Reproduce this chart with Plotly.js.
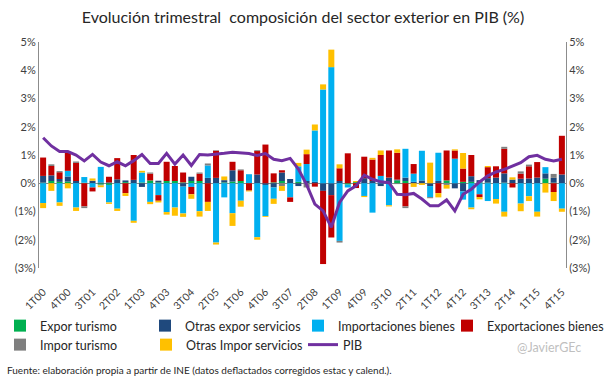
<!DOCTYPE html>
<html><head><meta charset="utf-8">
<script src="https://cdn.plot.ly/plotly-3.0.1.min.js"></script>
<style>html,body{margin:0;padding:0;background:#fff}#chart{width:606px;height:379px}</style>
</head><body><div id="chart"></div>
<script>
const quarters = ["1T00","2T00","3T00","4T00","1T01","2T01","3T01","4T01","1T02","2T02","3T02","4T02","1T03","2T03","3T03","4T03","1T04","2T04","3T04","4T04","1T05","2T05","3T05","4T05","1T06","2T06","3T06","4T06","1T07","2T07","3T07","4T07","1T08","2T08","3T08","4T08","1T09","2T09","3T09","4T09","1T10","2T10","3T10","4T10","1T11","2T11","3T11","4T11","1T12","2T12","3T12","4T12","1T13","2T13","3T13","4T13","1T14","2T14","3T14","4T14","1T15","2T15","3T15","4T15"];
const tickLabels = ["1T00","4T00","3T01","2T02","1T03","4T03","3T04","2T05","1T06","4T06","3T07","2T08","1T09","4T09","3T10","2T11","1T12","4T12","3T13","2T14","1T15","4T15"];
const yTickVals = [5,4,3,2,1,0,-1,-2,-3];
const yTickText = ["5%","4%","3%","2%","1%","0%","(1%)","(2%)","(3%)"];

const exporTurismo = [0.02,0.08,0.05,0.06,0,0.02,0,-0.05,-0.06,0, 0.04,0,0.03,0.10,0.03,0.08,0.08,0.03,0.08,0.08, 0,0,0.03,0.06,0.08,0,0,0,0.03,0.08, 0,0.05,0,0,0,0,0,-0.05,0.04,0, 0,0,0,0.10,0.08,0,0,0,0,0.10, 0,0.05,0.05,0.03,0.02,0,0.02,0,0,0, 0,0.16,0.02,0];
const otrasExpor = [0.24,0.20,0.10,0.18,0.08,0,0.09,0.03,0.03,0.14, 0.06,0.12,-0.13,0,0.06,0,0,-0.12,0.15,0, 0.19,0.19,0.08,0.40,0,0,0.31,-0.06,-0.15,0.30, 0.15,-0.10,0.08,0.05,-0.27,-0.42,0.08,0,0,0.18, 0.08,-0.10,0.20,0.03,0.12,0.05,0.10,-0.10,0.08,0, -0.18,-0.29,0.20,0.08,0.16,0.20,0.33,0.13,0.16,0.17, 0.20,0.19,0.17,0.31];
const importBienes = [-0.70,0,-0.68,0.20,-0.86,0.20,-0.15,0.55,-0.62,-0.90, 0,-1.33,0.35,-0.66,-0.42,-1.02,-0.86,-0.95,-0.13,-0.99, 0.44,-2.10,-0.50,-1.06,-0.62,0.32,-1.91,-1.10,-0.40,0, -0.50,0.55,0.60,1.82,3.32,4.11,-2.04,-0.10,0,-0.45, -1.04,0.26,-0.78,0,1.02,0.29,1.05,-0.39,1.00,0, 0.87,-0.29,-0.86,-0.39,-0.63,-0.56,-1.01,0,-0.72,-0.46, -1.01,0.22,0,-0.90];
const exportBienes = [0.65,0.33,0.24,0.65,0.64,-0.82,-0.14,0,0.20,0.75, -0.35,0.88,0,0.24,-0.20,0.68,0.53,0.35,-0.26,0.26, -0.66,0.96,0,0.30,0.38,-0.26,0.83,1.37,0.32,0.08, -0.16,0,0.35,-0.12,-2.59,-1.50,0.45,1.06,-0.17,0.76, 0.76,0.74,0.96,0.95,-0.82,0.34,0,0,-0.35,1.06, 0.29,0.47,0.75,-0.10,0.39,0.40,0.87,-0.15,0.18,0.43, 0.55,0,-0.31,1.37];
const imporTurismo = [0,0.06,0.04,0,0.05,-0.06,0,-0.03,0,0, 0,0,0,0.04,0,0,0,0,0,0.04, 0.07,0.02,0,0,0.03,0,0.03,0,0,-0.10, 0,0,-0.15,0,0,0,-0.06,0,0,0, 0,0,0,-0.03,-0.06,0,0,-0.04,0,-0.06, 0,0,0,0,0,0,0.07,0,0.08,0.06, 0,0,0.14,0];
const otrasImpor = [-0.18,-0.27,-0.12,-0.18,-0.12,0,0.08,-0.06,-0.05,-0.08, -0.10,-0.07,0.06,-0.08,-0.06,-0.09,-0.29,-0.12,-0.16,-0.19, -0.32,-0.07,0.13,-0.45,-0.21,-0.03,-0.09,-0.03,-0.18,-0.17, 0,0.12,0.16,0.21,0.18,0.62,0.14,0,0.04,-0.04, 0.06,0.16,-0.04,0.12,0,-0.13,-0.06,0.73,-0.15,-0.13, 0.04,0.55,-0.06,-0.08,0.04,-0.16,-0.17,0.08,-0.27,-0.17, -0.17,-0.33,-0.32,-0.11];
const pib = [1.61,1.32,1.12,1.12,1.00,0.79,1.02,0.75,0.62,0.76, 0.62,0.80,1.02,0.70,0.70,1.06,0.68,1.00,0.63,1.02, 1.00,1.02,1.06,1.10,1.08,1.05,0.98,1.05,0.85,0.80, 0.88,0.50,-0.05,-0.74,-0.98,-1.56,-0.68,-0.27,-0.09,0.29, 0.14,0.05,0.02,-0.39,-0.41,-0.36,-0.56,-0.80,-0.80,-0.59, -0.98,-0.39,-0.21,0.05,0.26,0.40,0.49,0.61,0.73,0.94, 0.99,0.85,0.79,0.85];

const FONT = 'Lato, "Open Sans", sans-serif';
function bar(name, y, color, leg) {
  return {type:'bar', name:name, x:quarters, y:y, legend:leg, marker:{color:color, line:{width:0}}, hoverinfo:'skip'};
}
const data = [
  bar('Expor turismo', exporTurismo, '#00B050', 'legend'),
  bar('Otras expor servicios', otrasExpor, '#1F497D', 'legend2'),
  bar('Importaciones bienes', importBienes, '#00B0F0', 'legend3'),
  bar('Exportaciones bienes', exportBienes, '#C00000', 'legend4'),
  bar('Impor turismo', imporTurismo, '#7F7F7F', 'legend5'),
  bar('Otras Impor servicios', otrasImpor, '#FFC000', 'legend6'),
  {type:'scatter', mode:'lines', name:'PIB', x:quarters, y:pib, yaxis:'y2', legend:'legend7', line:{color:'#7030A0', width:3}, hoverinfo:'skip'}
];
function leg(px, py) {
  return {orientation:'h', xref:'container', yref:'container', x:px/606, y:1-py/379, xanchor:'left', yanchor:'top', font:{size:12.5, color:'#262626'}, bgcolor:'rgba(0,0,0,0)'};
}
const yCommon = {range:[-3,5], tickvals:yTickVals, ticktext:yTickText, showgrid:false, showline:true, linecolor:'#8c8c8c', linewidth:1, ticks:'', tickfont:{size:11, color:'#404040'}, fixedrange:true};
const layout = {
  width:606, height:379,
  margin:{l:39, r:40, t:42, b:111},
  paper_bgcolor:'#fff', plot_bgcolor:'#fff',
  font:{family:FONT, color:'#262626'},
  title:{text:'Evolución trimestral\u00a0 composición del sector exterior en PIB (%)', x:0.5, xanchor:'center', y:1-17/379, yanchor:'middle', yref:'container', font:{size:16, color:'#262626'}},
  barmode:'relative', bargap:0.27,
  xaxis:{type:'category', tickvals:tickLabels, ticktext:tickLabels, tickangle:-45, ticks:'outside', ticklen:13, tickcolor:'rgba(0,0,0,0)', showline:false, showgrid:false, zeroline:false, tickfont:{size:10.5, color:'#404040'}, fixedrange:true},
  yaxis:Object.assign({}, yCommon, {zeroline:true, zerolinecolor:'#8c8c8c', zerolinewidth:1}),
  yaxis2:Object.assign({}, yCommon, {overlaying:'y', side:'right', zeroline:false}),
  showlegend:true,
  legend:leg(-5, 311),
  legend2:leg(145, 311),
  legend3:leg(298, 311),
  legend4:leg(447, 311),
  legend5:leg(-5, 330),
  legend6:leg(146, 330),
  legend7:leg(303, 330),
  annotations:[
    {xref:'paper', yref:'paper', x:(5-39)/527, y:(268-370)/226, xanchor:'left', yanchor:'middle', showarrow:false, text:'Fuente: elaboración propia a partir de INE (datos deflactados corregidos estac y calend.).', font:{size:10, color:'#262626'}},
    {xref:'paper', yref:'paper', x:(549-39)/527, y:(268-347)/226, xanchor:'center', yanchor:'middle', showarrow:false, text:'@JavierGEc', font:{size:12.5, color:'#bfbfbf'}}
  ]
};
Plotly.newPlot('chart', data, layout, {displayModeBar:false, staticPlot:true});
</script></body></html>
